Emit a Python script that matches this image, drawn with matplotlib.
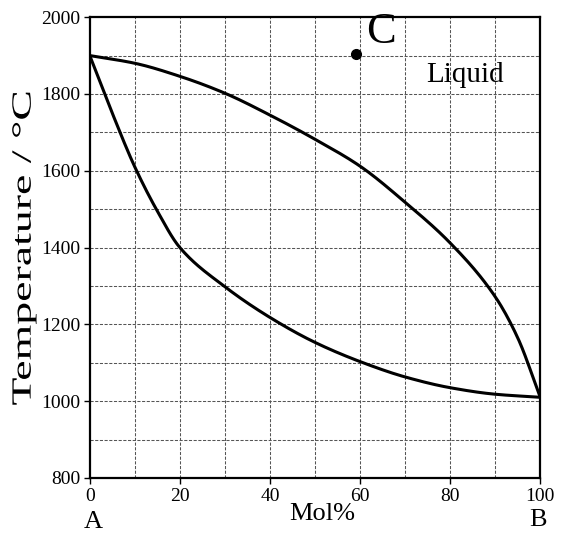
import matplotlib
matplotlib.use("Agg")
import matplotlib.pyplot as plt
import numpy as np
from matplotlib.patheffects import AbstractPathEffect
from matplotlib.transforms import Affine2D

# Phase diagram of a binary A-B system
liquidus_x = [0, 10, 20, 30, 40, 50, 60, 70, 80, 90, 95, 100]
liquidus_t = [1900, 1880, 1846, 1802, 1745, 1682, 1612, 1518, 1412, 1272, 1165, 1010]

solidus_x = [0, 5, 10, 15, 20, 30, 40, 50, 60, 70, 80, 90, 100]
solidus_t = [1900, 1750, 1610, 1495, 1400, 1298, 1218, 1153, 1103, 1063, 1035, 1018, 1010]

point_c = (59, 1905)

x_ticks = [0, 20, 40, 60, 80, 100]
y_ticks = [800, 1000, 1200, 1400, 1600, 1800, 2000]

plt.rcParams['font.family'] = ['Liberation Serif', 'DejaVu Serif']

fig = plt.figure(figsize=(5.61, 5.37), dpi=100)
ax = fig.add_axes([0.160, 0.110, 0.803, 0.858])

# grid every 10 mol% and every 100 degrees
for gx in range(10, 100, 10):
    ax.axvline(gx, color='#555555', lw=0.75, ls=(0, (3, 1.5)), zorder=1)
for gy in range(900, 2000, 100):
    ax.axhline(gy, color='#555555', lw=0.75, ls=(0, (3, 1.5)), zorder=1)

def smooth(xs, ys, n=300):
    xs = np.asarray(xs, float)
    ys = np.asarray(ys, float)
    # monotone cubic (PCHIP-like) interpolation for a smooth curve
    h = np.diff(xs)
    d = np.diff(ys) / h
    m = np.zeros_like(xs)
    m[0], m[-1] = d[0], d[-1]
    for i in range(1, len(xs) - 1):
        if d[i - 1] * d[i] > 0:
            w1 = 2 * h[i] + h[i - 1]
            w2 = h[i] + 2 * h[i - 1]
            m[i] = (w1 + w2) / (w1 / d[i - 1] + w2 / d[i])
    xx = np.linspace(xs[0], xs[-1], n)
    idx = np.clip(np.searchsorted(xs, xx) - 1, 0, len(xs) - 2)
    t = (xx - xs[idx]) / h[idx]
    h00 = 2 * t**3 - 3 * t**2 + 1
    h10 = t**3 - 2 * t**2 + t
    h01 = -2 * t**3 + 3 * t**2
    h11 = t**3 - t**2
    yy = h00 * ys[idx] + h10 * h[idx] * m[idx] + h01 * ys[idx + 1] + h11 * h[idx] * m[idx + 1]
    return xx, yy


class StretchAlongAxis(AbstractPathEffect):
    """Stretch rendered glyphs vertically about the axes' vertical centre."""

    def __init__(self, axes, factor):
        super().__init__()
        self.axes = axes
        self.factor = factor

    def draw_path(self, renderer, gc, tpath, affine, rgbFace=None):
        bb = self.axes.bbox
        cy = 0.5 * (bb.y0 + bb.y1)
        stretch = Affine2D().translate(0, -cy).scale(1, self.factor).translate(0, cy)
        renderer.draw_path(gc, tpath, affine + stretch, rgbFace)


lx, ly = smooth(liquidus_x, liquidus_t)
sx, sy = smooth(solidus_x, solidus_t)
ax.plot(lx, ly, color='black', lw=2.2, zorder=3, solid_capstyle='round')
ax.plot(sx, sy, color='black', lw=2.2, zorder=3, solid_capstyle='round')

ax.plot(*point_c, 'o', color='black', ms=7, zorder=4)
ax.text(point_c[0] + 2.3, point_c[1] + 5, 'C', fontsize=32, ha='left', va='bottom', zorder=4)
ax.text(83.3, 1830, 'Liquid', fontsize=21, ha='center', va='baseline', zorder=4)

ax.set_xlim(0, 100)
ax.set_ylim(800, 2000)
ax.set_xticks(x_ticks)
ax.set_yticks(y_ticks)
ax.tick_params(labelsize=14, length=4, width=1, direction='out', pad=3)
for s in ax.spines.values():
    s.set_linewidth(1.6)

ylab = ax.set_ylabel('Temperature / °C', fontsize=20, labelpad=3)
ylab.set_path_effects([StretchAlongAxis(ax, 1.65)])
ax.set_xlabel('Mol%', fontsize=19, labelpad=1)
ax.xaxis.set_label_coords(0.515, -0.055)

fig.text(93 / 561, 1 - 522 / 537, 'A', fontsize=19, ha='center', va='center')
fig.text(538 / 561, 1 - 520 / 537, 'B', fontsize=19, ha='center', va='center')

fig.savefig('out.png', dpi=100)
